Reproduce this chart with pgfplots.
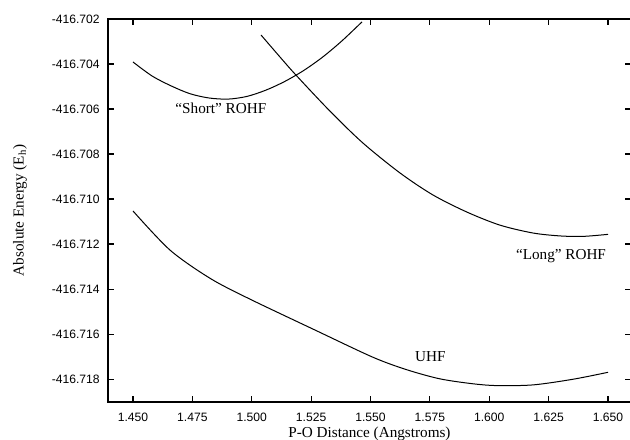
\documentclass[border=0pt]{standalone}
\usepackage{pgfplots}
\pgfplotsset{compat=1.18}
\usepackage{fontspec}
\setmainfont{Liberation Serif}
\newfontfamily\tickfont{Liberation Sans}

% energies stored as (E + 416.7) * 1000, i.e. mE_h above -416.7 E_h,
% so that the fpu keeps enough digits; tick labels carry the real values
\pgfplotstableread{
x       e
1.4500  -3.91
1.4580  -4.53
1.4660  -4.97
1.4740  -5.32
1.4820  -5.51
1.4900  -5.56
1.4980  -5.44
1.5060  -5.16
1.5140  -4.77
1.5220  -4.28
1.5300  -3.68
1.5380  -2.97
1.5464  -2.13
}\shortrohf

\pgfplotstableread{
x       e
1.5039  -2.71
1.5119  -3.69
1.5186  -4.49
1.5329  -6.09
1.5468  -7.51
1.5624  -8.84
1.5763  -9.82
1.5906  -10.58
1.6045  -11.16
1.6184  -11.51
1.6298  -11.64
1.6395  -11.66
1.6500  -11.57
}\longrohf

\pgfplotstableread{
x       e
1.4500  -10.53
1.4656  -12.27
1.4824  -13.52
1.4985  -14.41
1.5266  -15.82
1.5510  -17.03
1.5654  -17.59
1.5792  -17.99
1.5931  -18.21
1.6032  -18.29
1.6184  -18.26
1.6352  -18.01
1.6500  -17.70
}\uhf

\begin{document}
\begin{tikzpicture}
\begin{axis}[
    name=ax,
    scale only axis,
    width=392.25pt, height=287.25pt,
    xmin=1.43948, xmax=1.65968,
    ymin=-19.02, ymax=-2,
    axis line style={line width=1pt},
    major tick length=4.5pt,
    tick style={line width=0.8pt, black},
    xtick={1.450,1.475,1.500,1.525,1.550,1.575,1.600,1.625,1.650},
    xticklabels={1.450,1.475,1.500,1.525,1.550,1.575,1.600,1.625,1.650},
    ytick={-2,-4,-6,-8,-10,-12,-14,-16,-18},
    yticklabels={-416.702,-416.704,-416.706,-416.708,-416.710,-416.712,-416.714,-416.716,-416.718},
    ticklabel style={font=\tickfont\fontsize{9.1}{10}\selectfont},
    yticklabel style={inner sep=0pt, xshift=-6pt},
    xticklabel style={inner sep=0pt, yshift=-8pt},
    xlabel={P-O Distance (Angstroms)},
    ylabel={Absolute Energy (E\textsubscript{h})},
    label style={font=\fontsize{11.4}{13}\selectfont},
    xlabel style={at={(axis description cs:0.5,-0.0914)}, anchor=base},
    ylabel style={at={(axis description cs:-0.1683,0.5)}, anchor=center},
    clip=false,
]
\addplot[black, line width=0.75pt, smooth] table[x=x, y=e] {\shortrohf};
\addplot[black, line width=0.75pt, smooth] table[x=x, y=e] {\longrohf};
\addplot[black, line width=0.75pt, smooth] table[x=x, y=e] {\uhf};

\node[anchor=base, font=\fontsize{11.4}{13}\selectfont] at (axis cs:1.4870,-6.22) {``Short'' ROHF};
\node[anchor=base, font=\fontsize{11.4}{13}\selectfont] at (axis cs:1.6302,-12.69) {``Long'' ROHF};
\node[anchor=base, font=\fontsize{11.4}{13}\selectfont] at (axis cs:1.5752,-17.22) {UHF};
\end{axis}
\pgfresetboundingbox
\useasboundingbox ([xshift=-81pt, yshift=-27.75pt]ax.south west) rectangle ([xshift=-0.75pt, yshift=14.25pt]ax.north east);
\end{tikzpicture}
\end{document}
